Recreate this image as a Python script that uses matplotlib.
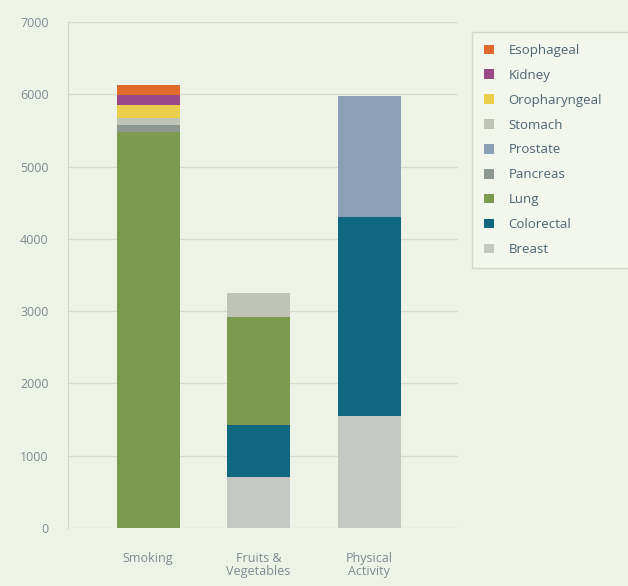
import matplotlib
matplotlib.use("Agg")
import matplotlib.pyplot as plt
from matplotlib.patches import Patch, Rectangle

categories = ["Smoking", "Fruits &\nVegetables", "Physical\nActivity"]
cancers = ["Breast", "Colorectal", "Lung", "Pancreas", "Prostate",
           "Stomach", "Oropharyngeal", "Kidney", "Esophageal"]
values = {
    "Breast":        [0, 700, 1550],
    "Colorectal":    [0, 725, 2750],
    "Lung":          [5480, 1500, 0],
    "Pancreas":      [100, 0, 0],
    "Prostate":      [0, 0, 1670],
    "Stomach":       [95, 320, 0],
    "Oropharyngeal": [180, 0, 0],
    "Kidney":        [140, 0, 0],
    "Esophageal":    [140, 0, 0],
}
colors = {
    "Breast": "#c4c7c2",
    "Colorectal": "#0f6880",
    "Lung": "#7c9b4e",
    "Pancreas": "#8e9893",
    "Prostate": "#8ba0b6",
    "Stomach": "#bfc3b8",
    "Oropharyngeal": "#ebcf4c",
    "Kidney": "#9a4888",
    "Esophageal": "#df6a2b",
}
yticks = [0, 1000, 2000, 3000, 4000, 5000, 6000, 7000]

plt.rcParams['font.family'] = ['Open Sans', 'DejaVu Sans']
bg = "#eef3e7"
fig = plt.figure(figsize=(6.28, 5.86), dpi=100, facecolor=bg)
ax = fig.add_axes([68/628, 1-528/586, 390/628, 506/586], facecolor=bg)

x = list(range(len(categories)))
bottom = [0]*len(categories)
for c in cancers:
    v = values[c]
    ax.bar(x, v, width=0.57, bottom=bottom, color=colors[c], edgecolor="none", zorder=3)
    bottom = [b + vi for b, vi in zip(bottom, v)]

ax.set_xlim(-0.724, 2.805)
ax.set_ylim(0, 7000)
ax.set_yticks(yticks)
ax.set_yticklabels([str(t) for t in yticks])
ax.set_xticks(x)
ax.set_xticklabels(categories, linespacing=1.0)
ax.yaxis.grid(True, color="#d6dccd", linewidth=1.0, zorder=0)
for s in ["top", "right", "bottom"]:
    ax.spines[s].set_visible(False)
ax.spines["left"].set_color("#cfd5c6")
ax.tick_params(axis="both", length=0, colors="#808a94", labelsize=9)
ax.tick_params(axis="y", pad=14)
ax.tick_params(axis="x", pad=17)

# legend box background
fig.patches.append(Rectangle((472/628, 1-268/586), 200/628, 236/586,
                             transform=fig.transFigure, facecolor="#f2f6ed",
                             edgecolor="#d3d9ca", linewidth=1.0, zorder=0))

handles = [Patch(facecolor=colors[c], edgecolor="none") for c in reversed(cancers)]
labels = list(reversed(cancers))
leg = fig.legend(handles, labels, loc="upper left",
                 bbox_to_anchor=(480/628, 1-40/586), frameon=False,
                 fontsize=9.5, handlelength=0.75, handleheight=0.75,
                 handletextpad=1.1, labelspacing=0.9, borderpad=0.3,
                 borderaxespad=0)
for t in leg.get_texts():
    t.set_color("#4d6474")

fig.savefig("out.png", dpi=100, facecolor=bg)
